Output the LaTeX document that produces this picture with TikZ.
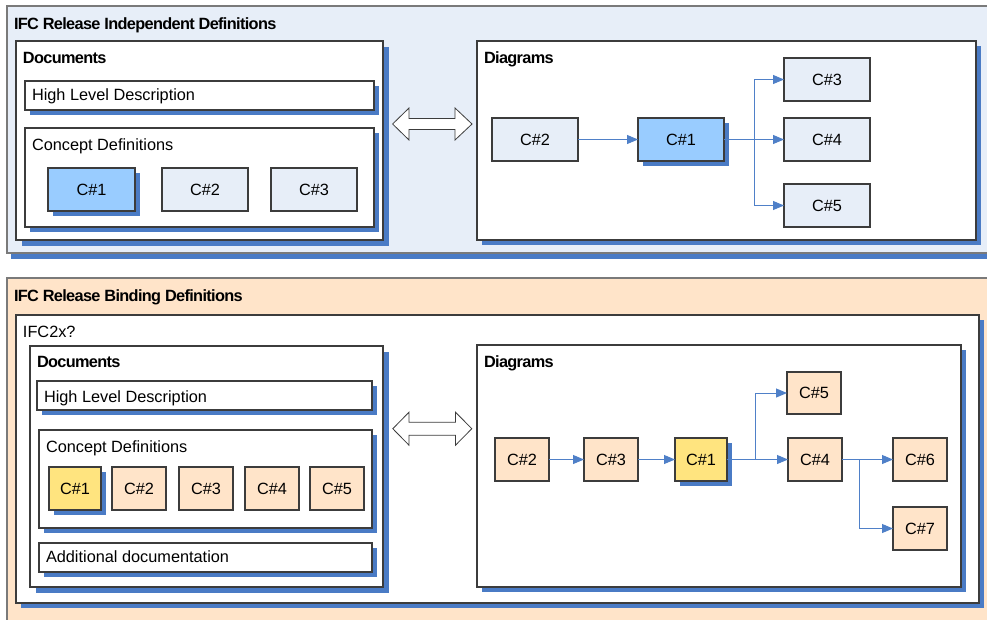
\documentclass[tikz,border=0pt]{standalone}
\usepackage{fontspec}
\setmainfont{Liberation Sans}
\newfontfamily\headfont{Liberation Sans}[LetterSpace=-4]
\usetikzlibrary{shadows,arrows.meta,calc}

\definecolor{panelblue}{HTML}{E7EEF8}
\definecolor{panelpeach}{HTML}{FFE4C9}
\definecolor{shadeblue}{HTML}{4A7BC5}
\definecolor{conceptblue}{HTML}{99CCFF}
\definecolor{conceptyellow}{HTML}{FFE47F}
\definecolor{edgegray}{HTML}{7A7A7A}
\definecolor{boxline}{HTML}{3C3C3C}
\definecolor{linkblue}{HTML}{4F80C8}

% rectangle node given by its top-left and bottom-right corners
\newcommand\rectnode[7]{%
  \pgfmathsetmacro\rw{#5-#3}\pgfmathsetmacro\rh{#6-#4}%
  \node[#2, anchor=north west, minimum width=\rw pt, minimum height=\rh pt] (#1) at (#3,#4) {#7};}

\tikzset{
  every node/.style={font=\fontsize{16.3}{19}\selectfont, inner sep=0pt, outer sep=0pt},
  heading/.style={font=\fontsize{16.3}{19}\selectfont\headfont\bfseries},
  panel/.style={draw=edgegray, line width=1.6pt},
  frame/.style={draw=boxline, line width=1.1pt, fill=white},
  shade/.style={drop shadow={shadow xshift=#1pt, shadow yshift=-#1pt, fill=shadeblue, opacity=1}},
  shade/.default=5,
  concept/.style={draw=boxline, line width=1.1pt},
  link/.style={draw=linkblue, line width=1pt},
  conn/.style={link, -{Triangle[length=11pt,width=9pt]}},
  dblarrow/.style={draw=boxline, line width=0.8pt, fill=white, line join=miter},
}

\begin{document}
\begin{tikzpicture}[x=1pt, y=-1pt]
\useasboundingbox (0,0) rectangle (987,619);
\clip (0,0) rectangle (987,619);
\fill[white] (0,0) rectangle (987,619);

% ---------- release independent definitions ----------
\rectnode{indep}{panel, fill=panelblue, drop shadow={shadow xshift=4pt, shadow yshift=-6pt, fill=shadeblue, opacity=1}}{7}{6}{1000}{253}{}
\node[heading, anchor=base west] (indepTitle) at (14,29) {IFC Release Independent Definitions};

\rectnode{tDocs}{frame, shade=6}{16}{41}{383}{240}{}
\node[heading, anchor=base west] (tDocsLbl) at (23,63) {Documents};
\rectnode{tHLD}{frame, shade}{25}{81}{374}{110}{}
\node[anchor=base west] (tHLDLbl) at (32,100) {High Level Description};
\rectnode{tCD}{frame, shade}{25}{128}{374}{227}{}
\node[anchor=base west] (tCDLbl) at (32,150) {Concept Definitions};
\rectnode{tD1}{concept, fill=conceptblue, shade}{48}{168}{135}{211}{C\#1}
\rectnode{tD2}{concept, fill=panelblue}{162}{168}{248}{211}{C\#2}
\rectnode{tD3}{concept, fill=panelblue}{271}{168}{357}{211}{C\#3}

\draw[dblarrow] (392.6,124) -- (409,108) -- (409,118.5) -- (455,118.5) -- (455,108)
  -- (472,124) -- (455,140) -- (455,129.5) -- (409,129.5) -- (409,140) -- cycle;

\rectnode{tDia}{frame, shade}{477}{41}{976}{240}{}
\node[heading, anchor=base west] (tDiaLbl) at (484,63) {Diagrams};
\rectnode{tC2}{concept, fill=panelblue}{492}{118}{578}{161}{C\#2}
\rectnode{tC1}{concept, fill=conceptblue, shade}{638}{118}{724}{161}{C\#1}
\rectnode{tC3}{concept, fill=panelblue}{784}{58}{870}{101}{C\#3}
\rectnode{tC4}{concept, fill=panelblue}{784}{118}{870}{161}{C\#4}
\rectnode{tC5}{concept, fill=panelblue}{784}{184}{870}{227}{C\#5}

\coordinate (tFork) at (754,139.5);
\draw[conn] (tC2) -- (tC1);
\draw[link] (tC1) -- (tFork);
\draw[conn] (tFork) |- (tC3);
\draw[conn] (tFork) -- (tC4);
\draw[conn] (tFork) |- (tC5);

% ---------- release binding definitions ----------
\rectnode{bind}{panel, fill=panelpeach}{7}{278}{1000}{640}{}
\node[heading, anchor=base west] (bindTitle) at (14,301) {IFC Release Binding Definitions};

\rectnode{ifc}{frame, shade}{16}{315}{979}{603}{}
\node[anchor=base west] (ifcLbl) at (23,337) {IFC2x?};

\rectnode{bDocs}{frame, shade=6}{30}{346}{383}{587}{}
\node[heading, anchor=base west] (bDocsLbl) at (37,367) {Documents};
\rectnode{bHLD}{frame, shade}{37}{381}{372}{410}{}
\node[anchor=base west] (bHLDLbl) at (44,402) {High Level Description};
\rectnode{bCD}{frame, shade}{39}{430}{372}{528}{}
\node[anchor=base west] (bCDLbl) at (46,452) {Concept Definitions};
\rectnode{bD1}{concept, fill=conceptyellow, shade}{49}{467}{101}{510}{C\#1}
\rectnode{bD2}{concept, fill=panelpeach}{112}{467}{166}{510}{C\#2}
\rectnode{bD3}{concept, fill=panelpeach}{179}{467}{233}{510}{C\#3}
\rectnode{bD4}{concept, fill=panelpeach}{245}{467}{299}{510}{C\#4}
\rectnode{bD5}{concept, fill=panelpeach}{310}{467}{364}{510}{C\#5}
\rectnode{bAdd}{frame, shade}{39}{543}{372}{572}{}
\node[anchor=base west] (bAddLbl) at (46,562) {Additional documentation};

\draw[dblarrow] (392.8,428.7) -- (409,412.2) -- (409,422.2) -- (455.5,422.2) -- (455.5,412.2)
  -- (471.8,428.7) -- (455.5,445.2) -- (455.5,435.2) -- (409,435.2) -- (409,445.2) -- cycle;

\rectnode{bDia}{frame, shade}{477}{345}{961}{587}{}
\node[heading, anchor=base west] (bDiaLbl) at (484,367) {Diagrams};
\rectnode{bC2}{concept, fill=panelpeach}{495}{438}{549}{481}{C\#2}
\rectnode{bC3}{concept, fill=panelpeach}{584}{438}{638}{481}{C\#3}
\rectnode{bC1}{concept, fill=conceptyellow, shade}{675}{438}{727}{481}{C\#1}
\rectnode{bC4}{concept, fill=panelpeach}{788}{438}{842}{481}{C\#4}
\rectnode{bC5}{concept, fill=panelpeach}{787}{372}{841}{414}{C\#5}
\rectnode{bC6}{concept, fill=panelpeach}{893}{438}{947}{481}{C\#6}
\rectnode{bC7}{concept, fill=panelpeach}{893}{507}{947}{550}{C\#7}

\coordinate (bForkA) at (755.5,459.5);
\coordinate (bForkB) at (859.3,459.5);
\draw[conn] (bC2) -- (bC3);
\draw[conn] (bC3) -- (bC1);
\draw[link] (bC1) -- (bForkA);
\draw[conn] (bForkA) -- (bC4);
\draw[conn] (bForkA) |- (bC5);
\draw[link] (bC4) -- (bForkB);
\draw[conn] (bForkB) -- (bC6);
\draw[conn] (bForkB) |- (bC7);
\end{tikzpicture}
\end{document}
